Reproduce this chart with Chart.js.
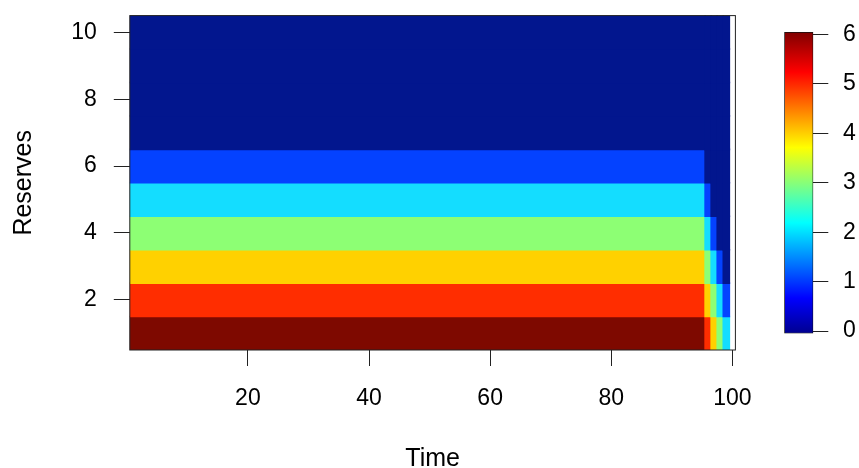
<!DOCTYPE html>
<html>
<head>
<meta charset="utf-8">
<script src="https://cdn.jsdelivr.net/npm/chart.js@4"></script>
<style>
html, body { margin: 0; padding: 0; background: #fff; }
#wrap { position: relative; width: 859px; height: 468px; }
#heat { position: absolute; left: 0; top: 0; }
#key { position: absolute; left: 770px; top: 0; }
</style>
</head>
<body>
<div id="wrap">
  <canvas id="heat" width="859" height="468"></canvas>
  <canvas id="key" width="89" height="468"></canvas>
</div>
<script>
// datos
const reservas = [1, 2, 3, 4, 5, 6, 7, 8, 9, 10];
const bloqueInicio = [1, 96, 97, 98, 99];   // tiempo 100 sin dato (blanco)
const bloqueFin = [95, 96, 97, 98, 99];
const valores1a95 = [6, 5, 4, 3, 2, 1, 0, 0, 0, 0];
const valores96 = [5, 4, 3, 2, 1, 0, 0, 0, 0, 0];
const valores97 = [4, 3, 2, 1, 0, 0, 0, 0, 0, 0];
const valores98 = [3, 2, 1, 0, 0, 0, 0, 0, 0, 0];
const valores99 = [2, 1, 0, 0, 0, 0, 0, 0, 0, 0];
const ticksTiempo = [20, 40, 60, 80, 100];
const ticksReservas = [2, 4, 6, 8, 10];
const ticksLeyenda = [0, 1, 2, 3, 4, 5, 6];
const rangoLeyenda = [-0.048, 6.048];

const colores = ['#02168E', '#0442FF', '#14DDFF', '#8DFF74', '#FFD100', '#FF2D00', '#7E0900'];
const paradasJet = [
    [0, '#00008F'], [0.117, '#0000FF'], [0.367, '#00FFFF'], [0.492, '#80FF80'],
    [0.617, '#FFFF00'], [0.867, '#FF0000'], [1, '#800000']
];
const fuente = '"Liberation Sans", Arial, Helvetica, sans-serif';

const columnas = [valores1a95, valores96, valores97, valores98, valores99];
const celdas = [];
columnas.forEach((col, b) => {
    reservas.forEach((r, i) => {
        celdas.push({ y: r, x: [bloqueInicio[b] - 0.5, bloqueFin[b] + 0.5], v: col[i] });
    });
});

// sin relleno extra por las etiquetas de los bordes
function sinRelleno(s) {
    s.paddingTop = 0;
    s.paddingBottom = 0;
    s.paddingLeft = 0;
    s.paddingRight = 0;
}

const marco = {
    id: 'marco',
    afterDatasetsDraw(chart) {
        const { ctx, chartArea: a } = chart;
        ctx.save();
        ctx.strokeStyle = '#222';
        ctx.lineWidth = 1;
        ctx.strokeRect(a.left, a.top, a.right - a.left, a.bottom - a.top);
        ctx.restore();
    }
};

new Chart(document.getElementById('heat'), {
    type: 'bar',
    data: {
        datasets: [{
            data: celdas,
            backgroundColor: c => colores[c.raw.v],
            borderWidth: 0,
            inflateAmount: 0.8,
            barPercentage: 1,
            categoryPercentage: 1
        }]
    },
    options: {
        responsive: false,
        animation: false,
        indexAxis: 'y',
        layout: { padding: { left: 0, right: 123.6, top: 15.6, bottom: 0 } },
        plugins: { legend: { display: false }, tooltip: { enabled: false } },
        scales: {
            x: {
                type: 'linear', min: 0.5, max: 100.5,
                afterBuildTicks: s => { s.ticks = ticksTiempo.map(v => ({ value: v })); },
                afterFit: s => { s.height = 118; sinRelleno(s); },
                grid: { drawOnChartArea: false, drawTicks: true, tickLength: 16, color: '#222', offset: false },
                border: { display: false },
                ticks: { color: '#000', font: { family: fuente, size: 23 }, padding: 19, maxRotation: 0, autoSkip: false },
                title: { display: true, text: 'Time', color: '#000', font: { family: fuente, size: 25 }, padding: { top: 0, bottom: -6 } }
            },
            y: {
                type: 'linear', min: 0.5, max: 10.5, offset: false,
                afterBuildTicks: s => { s.ticks = ticksReservas.map(v => ({ value: v })); },
                afterFit: s => { s.width = 129.8; sinRelleno(s); },
                grid: { drawOnChartArea: false, drawTicks: true, tickLength: 16, color: '#222', offset: false },
                border: { display: false },
                ticks: { color: '#000', font: { family: fuente, size: 23 }, padding: 17, autoSkip: false },
                title: { display: true, text: 'Reserves', color: '#000', font: { family: fuente, size: 25 }, padding: { top: 9, bottom: 0 } }
            }
        }
    },
    plugins: [marco]
});

new Chart(document.getElementById('key'), {
    type: 'bar',
    data: {
        labels: ['z'],
        datasets: [{
            data: [rangoLeyenda],
            backgroundColor: c => {
                const chart = c.chart;
                if (!chart.chartArea) return '#888';
                const y = chart.scales.y;
                const g = chart.ctx.createLinearGradient(0, y.getPixelForValue(rangoLeyenda[0]), 0, y.getPixelForValue(rangoLeyenda[1]));
                paradasJet.forEach(([p, col]) => g.addColorStop(p, col));
                return g;
            },
            borderColor: '#111',
            borderWidth: 1,
            borderSkipped: false,
            barPercentage: 1,
            categoryPercentage: 1
        }]
    },
    options: {
        responsive: false,
        animation: false,
        layout: { padding: { left: 14.3, right: 0, top: 32, bottom: 134.5 } },
        plugins: { legend: { display: false }, tooltip: { enabled: false } },
        scales: {
            x: { display: false },
            y: {
                type: 'linear', position: 'right', min: rangoLeyenda[0], max: rangoLeyenda[1],
                afterBuildTicks: s => { s.ticks = ticksLeyenda.map(v => ({ value: v })); },
                afterFit: s => { s.width = 45.7; sinRelleno(s); },
                grid: { drawOnChartArea: false, drawTicks: true, tickLength: 15, color: '#222' },
                border: { display: false },
                ticks: { color: '#000', font: { family: fuente, size: 23 }, padding: 14.7, autoSkip: false }
            }
        }
    }
});
</script>
</body>
</html>
